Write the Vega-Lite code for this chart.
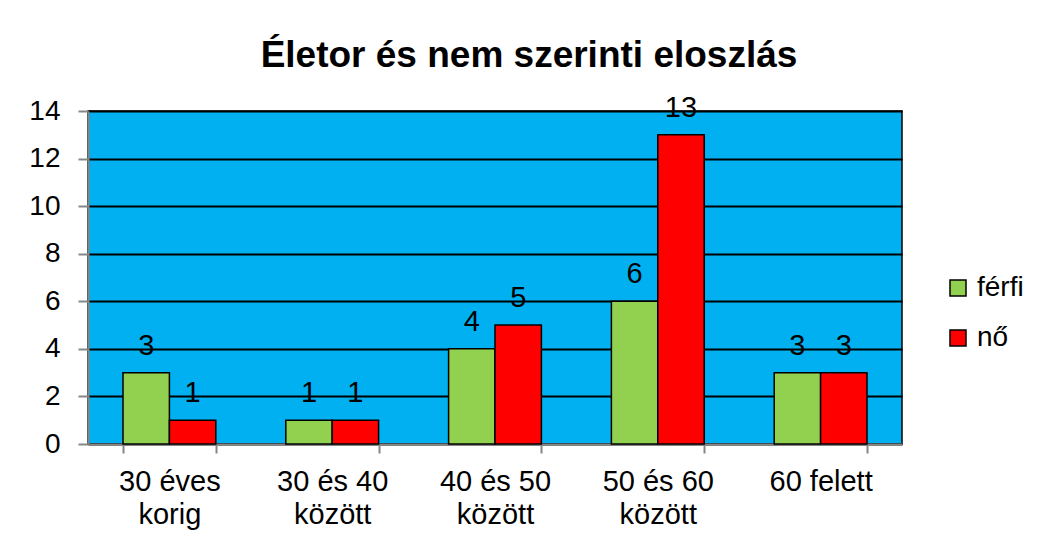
{
  "$schema": "https://vega.github.io/schema/vega-lite/v6.json",
  "width": 814,
  "height": 333,
  "autosize": {"type": "none"},
  "padding": {"left": 88, "top": 111, "right": 135, "bottom": 103},
  "background": "white",
  "title": {
    "text": "Életor és nem szerinti eloszlás",
    "font": "Liberation Sans",
    "fontSize": 37,
    "fontWeight": "bold",
    "color": "black",
    "anchor": "middle",
    "frame": "group",
    "dx": 34,
    "baseline": "alphabetic",
    "offset": -10
  },
  "config": {
    "view": {"fill": "#00B0F0", "stroke": "black", "strokeWidth": 1.5},
    "font": "Liberation Sans"
  },
  "data": {
    "values": [
      {"kat": "30 éves korig", "nem": "férfi", "db": 3},
      {"kat": "30 éves korig", "nem": "nő", "db": 1},
      {"kat": "30 és 40 között", "nem": "férfi", "db": 1},
      {"kat": "30 és 40 között", "nem": "nő", "db": 1},
      {"kat": "40 és 50 között", "nem": "férfi", "db": 4},
      {"kat": "40 és 50 között", "nem": "nő", "db": 5},
      {"kat": "50 és 60 között", "nem": "férfi", "db": 6},
      {"kat": "50 és 60 között", "nem": "nő", "db": 13},
      {"kat": "60 felett", "nem": "férfi", "db": 3},
      {"kat": "60 felett", "nem": "nő", "db": 3}
    ]
  },
  "encoding": {
    "x": {
      "field": "kat",
      "type": "nominal",
      "sort": null,
      "title": null,
      "scale": {"paddingInner": 0.43, "paddingOuter": 0.215},
      "axis": {
        "labelAngle": 0,
        "labelFontSize": 29,
        "labelColor": "black",
        "labelFont": "Liberation Sans",
        "labelLineHeight": 33,
        "labelPadding": 14,
        "labelExpr": "datum.label == '60 felett' ? datum.label : [slice(datum.label, 0, lastindexof(datum.label, ' ')), slice(datum.label, lastindexof(datum.label, ' ') + 1)]",
        "tickBand": "extent",
        "tickSize": 9,
        "tickColor": "#868686",
        "tickWidth": 2,
        "domainColor": "#868686",
        "domainWidth": 2,
        "grid": false
      }
    },
    "xOffset": {"field": "nem", "type": "nominal"},
    "y": {
      "field": "db",
      "type": "quantitative",
      "title": null,
      "scale": {"domain": [0, 14], "nice": false},
      "axis": {
        "values": [0, 2, 4, 6, 8, 10, 12, 14],
        "labelFontSize": 28,
        "labelColor": "black",
        "labelFont": "Liberation Sans",
        "labelPadding": 18,
        "tickSize": 10,
        "tickColor": "#868686",
        "tickWidth": 2,
        "domainColor": "#868686",
        "domainWidth": 2,
        "gridColor": "black",
        "gridWidth": 2,
        "gridOpacity": 1
      }
    },
    "color": {
      "field": "nem",
      "type": "nominal",
      "title": null,
      "scale": {"domain": ["férfi", "nő"], "range": ["#92D050", "#FF0000"]},
      "legend": {
        "orient": "none",
        "legendX": 856,
        "legendY": 163,
        "symbolType": "square",
        "symbolSize": 256,
        "symbolStrokeColor": "black",
        "symbolStrokeWidth": 1.5,
        "symbolOpacity": 1,
        "labelFontSize": 28,
        "labelFont": "Liberation Sans",
        "labelColor": "black",
        "labelOffset": 5,
        "rowPadding": 22
      }
    }
  },
  "layer": [
    {
      "mark": {"type": "bar", "stroke": "black", "strokeWidth": 1.5, "opacity": 1}
    },
    {
      "mark": {"type": "text", "baseline": "alphabetic", "dy": -18, "fontSize": 29, "font": "Liberation Sans", "color": "black"},
      "encoding": {"text": {"field": "db", "type": "quantitative"}, "color": {"value": "black"}}
    }
  ]
}
